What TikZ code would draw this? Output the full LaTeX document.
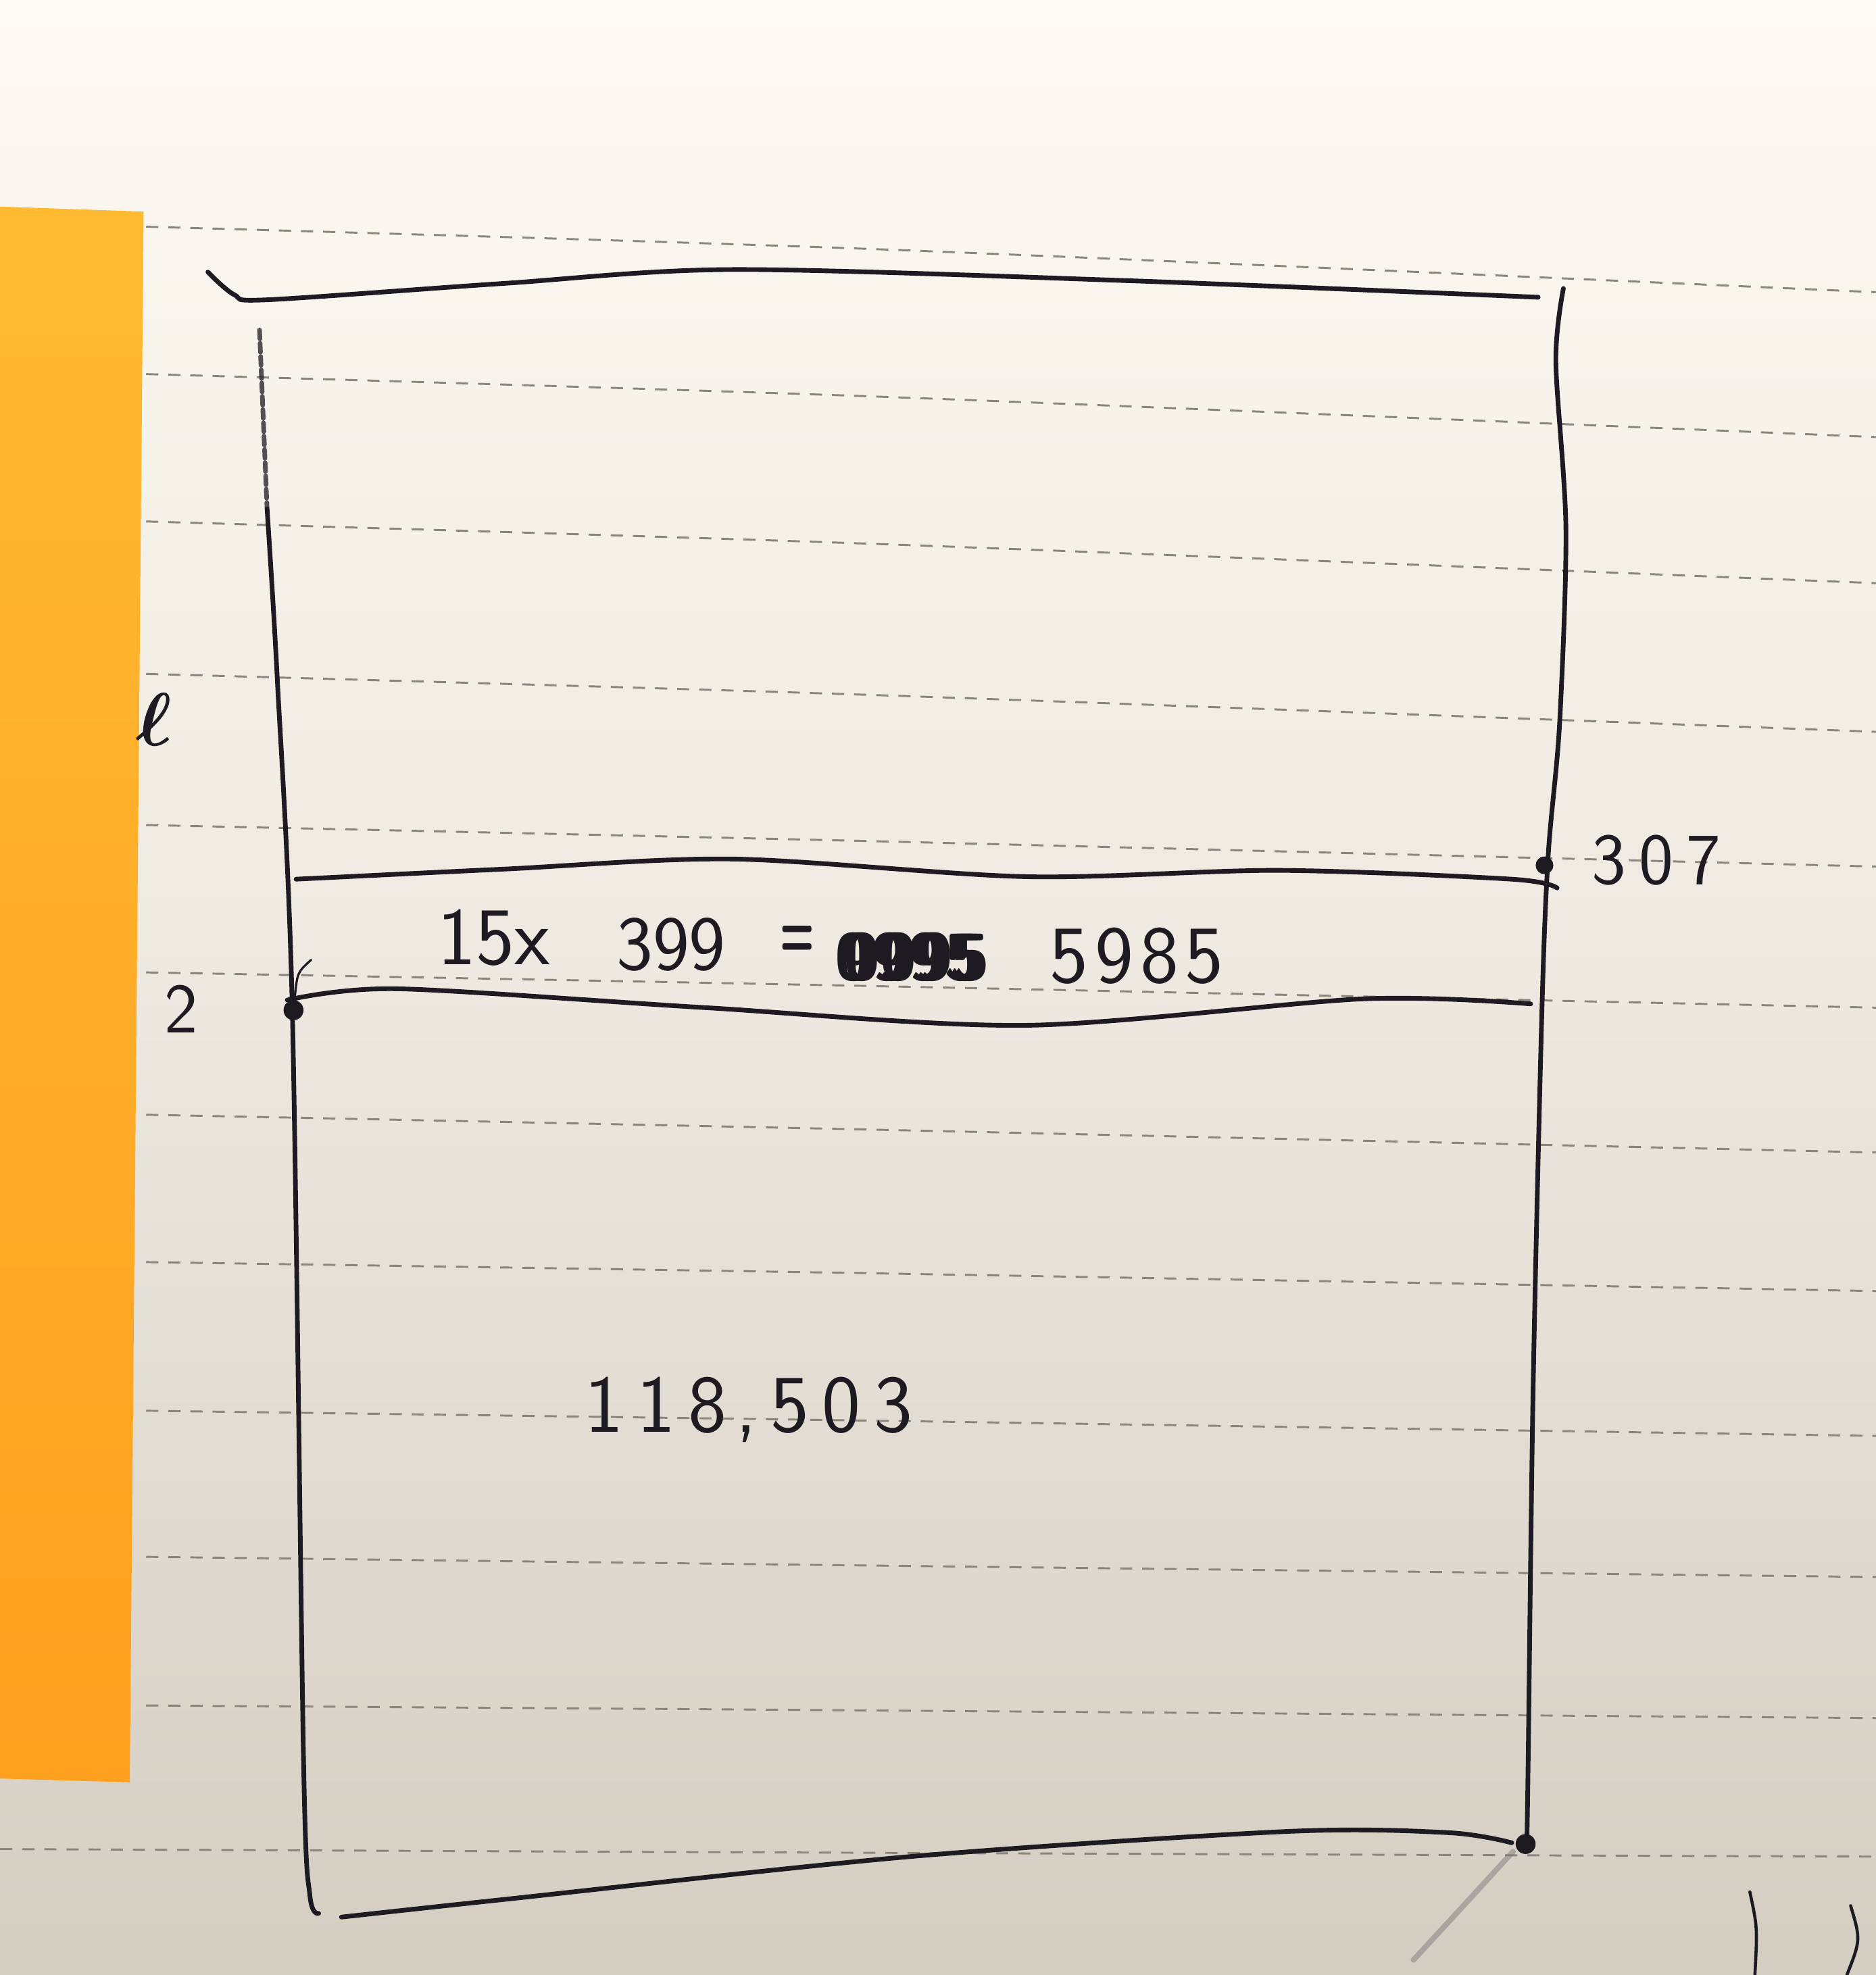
\documentclass[tikz,border=0pt]{standalone}
\usepackage{fontspec}
\definecolor{paperTop}{HTML}{FCFAF3}
\definecolor{paperMid}{HTML}{EDE9E0}
\definecolor{paperBot}{HTML}{D4CDC2}
\definecolor{noteTop}{HTML}{FFBA32}
\definecolor{noteBot}{HTML}{FFA01F}
\definecolor{inkC}{HTML}{1D1A21}
\definecolor{ruleC}{HTML}{8C857C}
\newcommand\dgap{\kern6pt}

\begin{document}
\begin{tikzpicture}[x=0.02cm,y=-0.02cm,
  ink/.style={draw=inkC,line width=2.1pt,line cap=round,line join=round},
  rule/.style={draw=ruleC,line width=0.9pt,dash pattern=on 5.5pt off 4.5pt},
  hand/.style={text=inkC,inner sep=0pt,anchor=base west,font=\sffamily\fontsize{37}{37}\selectfont},
  blob/.style={fill=inkC}]
  \useasboundingbox (0,0) rectangle (1489,1568);
  % paper and sticky note
  \shade[top color=paperTop,bottom color=paperBot,middle color=paperMid] (0,0) rectangle (1489,1568);
  \shade[top color=noteTop,bottom color=noteBot] (0,164) -- (114,168) -- (103,1415) -- (0,1412) -- cycle;
  % ruled lines
  \foreach \yl/\ym/\yr in {180/198/232,297/315/347,414/432/463,535/552/581,655/668/688,772/783/800,
      885/897/915,1002/1011/1025,1120/1128/1140,1236/1243/1252,1354/1358/1364}
    \draw[rule] plot[smooth] coordinates {(116,\yl) (700,\ym) (1489,\yr)};
  \draw[rule] plot[smooth] coordinates {(0,1468) (700,1471) (1489,1474)};
  % the box
  \draw[ink] plot[smooth,tension=0.5] coordinates {(165,216) (186,234) (212,238) (400,225) (582,214) (900,223) (1221,236)};
  \draw[ink,draw opacity=0.75,dash pattern=on 4pt off 2pt] (206,262) -- (212,404);
  \draw[ink] plot[smooth] coordinates {(212,404) (220,537) (232,800) (241,1400) (246,1505) (253,1519)};
  \draw[ink] plot[smooth] coordinates {(1241,229) (1235,287) (1243,420) (1238,574) (1229,678) (1224,800) (1217,1100) (1213,1400) (1212,1462)};
  \draw[ink] plot[smooth] coordinates {(271,1522) (400,1508) (722,1474) (1022,1454) (1150,1455) (1200,1463)};
  % the band
  \draw[ink] plot[smooth] coordinates {(235,698) (400,690) (582,682) (815,696) (1015,691) (1200,698) (1236,705)};
  \draw[ink] plot[smooth] coordinates {(228,794) (315,785) (560,800) (815,814) (1082,793) (1215,797)};
  \draw[ink,line width=1pt] (234,792) .. controls (236,772) .. (247,762);
  \fill[blob] (233,802) circle (4.5pt);
  \fill[blob] (1226,687) circle (4pt);
  \fill[blob] (1211,1464) circle (4.5pt);
  % smudge and marks at the bottom
  \draw[draw=black!55,draw opacity=0.45,line width=2.5pt,line cap=round] (1201,1470) -- (1158,1517) -- (1122,1556);
  \draw[ink,line width=1.4pt] (1389,1502) .. controls (1395,1530) .. (1393,1568);
  \draw[ink,line width=1.4pt] (1469,1513) .. controls (1477,1540) .. (1466,1568);
  % labels
  \node[hand,font=\boldmath] (ell) at (108,592) {\scalebox{3.4}{$\ell$}};
  \node[hand,font=\sffamily\fontsize{32}{32}\selectfont] (two) at (130,820) {2};
  \node[hand,font=\sffamily\fontsize{33}{33}\selectfont] (top) at (1263,702) {3\dgap 0\dgap 7};
  \node[hand] (factor) at (347,766) {15x};
  \node[hand,font=\sffamily\fontsize{35}{35}\selectfont] (price) at (489,770) {399};
  \node[hand,font=\sffamily\bfseries\fontsize{30}{30}\selectfont] (eq) at (619,760) {\scalebox{0.6}[1.15]{=}};
  \node[hand,font=\sffamily\bfseries\fontsize{30}{30}\selectfont] (crossed) at (666,778) {\rlap{\kern-2pt 0995}\rlap{\kern2pt 0095}9995};
  \node[hand] (prod) at (833,780) {5\kern3pt 9\kern3pt 8\kern3pt 5};
  \node[hand] (total) at (464,1137) {1\dgap 1\dgap 8\kern4pt,\dgap 5\dgap 0\dgap 3};
\end{tikzpicture}
\end{document}
